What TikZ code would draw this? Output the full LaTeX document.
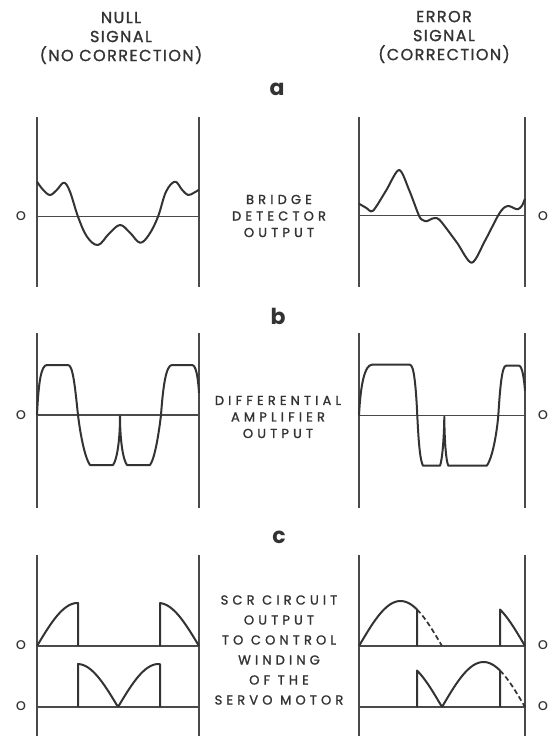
\documentclass[tikz,border=0pt]{standalone}
\usepackage{fontspec}
\setmainfont{Poppins}
\newfontfamily\headfont{Poppins}[LetterSpace=9, FakeBold=1.2]
\newfontfamily\midfont{Poppins}[LetterSpace=32, FakeBold=1.3]
\usepackage{tikz}
\usetikzlibrary{
  calc  % 坐标计算
}

\definecolor{inkgray}{HTML}{333333}
\definecolor{axisgray}{HTML}{4A4A4A}

\tikzset{
  axisline/.style={axisgray, line width=1.4pt},
  waveline/.style={inkgray, line width=2pt, line join=round},
  cutline/.style={inkgray, line width=1.7pt, dash pattern=on 5pt off 3pt},
  headtext/.style={inkgray, align=center, font=\headfont\fontsize{16}{19}\selectfont},
  midtext/.style={inkgray, align=center, font=\midfont\fontsize{13}{16.5}\selectfont},
  zerolab/.style={inkgray, font=\fontsize{16}{16}\selectfont},
  partlab/.style={inkgray, font=\bfseries\fontsize{22}{22}\selectfont}
}

\begin{document}
\begin{tikzpicture}[x=1pt, y=-1pt]

  % 背景与边界
  \fill[white] (0,0) rectangle (552,736);
  \useasboundingbox (0,0) rectangle (552,736);

  % =========== 标题 ===========
  \node[headtext] (nullhead) at (121,38) {NULL\\SIGNAL\\(NO CORRECTION)};
  \node[headtext] (errorhead) at (444,37) {ERROR\\SIGNAL\\(CORRECTION)};

  % =========== a：电桥检测输出 ===========
  \node[partlab] (parta) at (277,89) {a};
  \node[midtext] (bridgelab) at (279,216) {BRIDGE\\DETECTOR\\OUTPUT};
  \node[zerolab] (zeroal) at (21,216) {o};
  \node[zerolab] (zeroar) at (543,216) {o};

  \begin{scope}[shift={(37,216.7)}, yscale=-1]
    % 坐标框
    \draw[axisline] (0,99.7) -- (0,-70.3);
    \draw[axisline] (162,99.7) -- (162,-70.3);
    \draw[axisline] (0,0) -- (162,0);
    % 无误差信号
    \draw[waveline] plot[smooth, tension=0.6] coordinates {
      (0,35) (6,27) (13,21.7) (20,27) (27,34) (33,25) (41,0) (50,-20)
      (61,-28.3) (72,-17) (83,-8.3) (93,-16) (103,-26) (112,-18) (121,0)
      (129,25) (138,35) (145,27) (151,21.7) (157,24) (162,27)};
  \end{scope}

  \begin{scope}[shift={(359,215.7)}, yscale=-1]
    % 坐标框
    \draw[axisline] (0,98.7) -- (0,-71.3);
    \draw[axisline] (166,98.7) -- (166,-71.3);
    \draw[axisline] (0,0) -- (166,0);
    % 误差信号
    \draw[waveline] plot[smooth, tension=0.5] coordinates {
      (0,12) (7,8) (14,5) (27,25) (40,45.7) (50,26) (60,0) (64,-4.5)
      (68,-5.5) (73,-3) (78,-2.5) (83,-7) (98,-27) (112.7,-47) (126,-25)
      (139,0) (145,8) (150,9.7) (155,7.5) (159,6.5) (163,10) (166,17)};
  \end{scope}

  % =========== b：差分放大器输出 ===========
  \node[partlab] (partb) at (278,316) {b};
  \node[midtext] (amplab) at (278,417) {DIFFERENTIAL\\AMPLIFIER\\OUTPUT};
  \node[zerolab] (zerobl) at (21,415) {o};
  \node[zerolab] (zerobr) at (543,415) {o};

  \begin{scope}[shift={(37,415)}, yscale=-1]
    % 坐标框
    \draw[axisline] (0,82) -- (0,-93);
    \draw[axisline] (162,82) -- (162,-93);
    \draw[axisline] (0,0) -- (162,0);
    % 限幅波形
    \draw[waveline] (0,0) .. controls (1.5,32) and (4,50) .. (10,50) -- (31,50)
      .. controls (36,50) and (38,28) .. (41,0)
      .. controls (44,-25) and (49,-45) .. (53,-50) -- (76,-50)
      .. controls (80,-45) and (83,-25) .. (83,-1)
      .. controls (83,-25) and (86,-45) .. (90,-50) -- (113,-50)
      .. controls (117,-45) and (121,-25) .. (124,0)
      .. controls (126,28) and (129,50) .. (135,50) -- (155,50)
      .. controls (159,50) and (161,38) .. (162,22);
  \end{scope}

  \begin{scope}[shift={(359,415.7)}, yscale=-1]
    % 坐标框
    \draw[axisline] (0,82.7) -- (0,-92.3);
    \draw[axisline] (166,82.7) -- (166,-92.3);
    \draw[axisline] (0,0) -- (166,0);
    % 限幅波形
    \draw[waveline] (0,0) .. controls (1.5,32) and (6,51) .. (13,51) -- (51,51)
      .. controls (55,51) and (57,28) .. (58.3,0)
      .. controls (59.5,-25) and (61,-45) .. (64,-50) -- (81,-50)
      .. controls (83,-45) and (85,-25) .. (85.3,-1)
      .. controls (85.5,-25) and (87,-45) .. (89.3,-50) -- (127.7,-50)
      .. controls (132,-45) and (137,-25) .. (139.3,0)
      .. controls (141,28) and (143,50) .. (147,50) -- (160,50)
      .. controls (163,50) and (165,38) .. (166,25);
  \end{scope}

  % =========== c：可控硅电路输出 ===========
  \node[partlab] (partc) at (279,537) {c};
  \node[midtext, font=\midfont\fontsize{13}{20}\selectfont] (scrlab) at (279,650)
    {SCR CIRCUIT\\OUTPUT\\TO CONTROL\\WINDING\\OF THE\\SERVO MOTOR};
  \node[zerolab] (zerocl) at (21,645) {o};
  \node[zerolab] (zerocr) at (543,645) {o};
  \node[zerolab] (zerodl) at (21,706) {o};
  \node[zerolab] (zerodr) at (543,706) {o};

  \begin{scope}[shift={(37,646)}, yscale=-1]
    % 坐标框
    \draw[axisline] (0,91) -- (0,-90);
    \draw[axisline] (162,91) -- (162,-90);
    \draw[axisline] (0,0) -- (162,0);
    \draw[axisline] (0,-61) -- (162,-61);
    % 上绕组
    \draw[waveline] plot[domain=0:41, samples=30] (\x,{43*abs(sin(\x/81*180))}) -- (41,0);
    \draw[waveline] (123,0) -- plot[domain=123:162, samples=30] (\x,{43*abs(sin(\x/81*180))});
  \end{scope}

  \begin{scope}[shift={(37,707)}, yscale=-1]
    % 下绕组
    \draw[waveline] (41,0) -- plot[domain=41:123, samples=60] (\x,{43*abs(sin(\x/81*180))}) -- (123,0);
  \end{scope}

  \begin{scope}[shift={(359,646)}, yscale=-1]
    % 坐标框
    \draw[axisline] (0,91) -- (0,-90);
    \draw[axisline] (166,91) -- (166,-90);
    \draw[axisline] (0,0) -- (166,0);
    \draw[axisline] (0,-61) -- (166,-61);
    % 上绕组
    \draw[waveline] plot[domain=0:58, samples=40] (\x,{45*abs(sin(\x/83*180))}) -- (58,0);
    \draw[cutline] plot[domain=58:83, samples=20] (\x,{45*abs(sin(\x/83*180))});
    \draw[waveline] (141,0) -- plot[domain=141:166, samples=20] (\x,{45*abs(sin(\x/83*180))});
  \end{scope}

  \begin{scope}[shift={(359,707)}, yscale=-1]
    % 下绕组
    \draw[waveline] (58,0) -- plot[domain=58:141, samples=60] (\x,{45*abs(sin(\x/83*180))}) -- (141,0);
    \draw[cutline] plot[domain=141:166, samples=20] (\x,{45*abs(sin(\x/83*180))});
  \end{scope}

\end{tikzpicture}
\end{document}
